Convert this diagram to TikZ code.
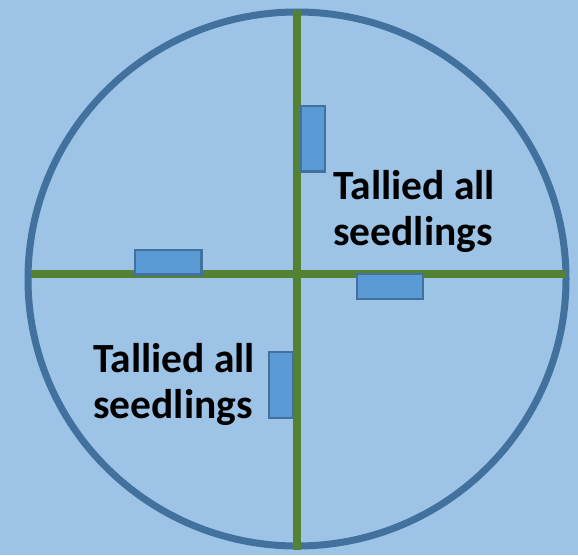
\documentclass[tikz,border=0pt]{standalone}
\usepackage{fontspec}
\setmainfont{Carlito}
\definecolor{bgblue}{HTML}{9DC3E6}
\definecolor{ringblue}{HTML}{41719C}
\definecolor{axisgreen}{HTML}{548235}
\definecolor{plotfill}{HTML}{5B9BD5}
\tikzset{
  ring/.style={draw=ringblue, line width=7pt},
  axis/.style={draw=axisgreen, line width=7.5pt},
  plotbox/.style={draw=ringblue, fill=plotfill, line width=2.5pt},
  label/.style={font=\fontsize{41.5}{46}\selectfont\bfseries, align=left, inner sep=0pt, anchor=base west}
}
\begin{document}
\begin{tikzpicture}[x=1pt, y=-1pt]
\fill[bgblue] (0,0) rectangle (578,555);
\useasboundingbox (0,0) rectangle (578,555);
\draw[ring] (297,279) ellipse (269 and 267);
\coordinate (vtop) at (297,10);
\coordinate (vbot) at (297,550);
\coordinate (hleft) at (31,274);
\coordinate (hright) at (565,274);
\draw[axis] (vtop) -- (vbot);
\draw[axis] (hleft) -- (hright);
\draw[plotbox] (301.2,106.2) rectangle (324.8,171.5);
\draw[plotbox] (135.2,250.2) rectangle (201.5,274.5);
\draw[plotbox] (356.9,273.9) rectangle (423.1,298.8);
\draw[plotbox] (269.2,351.9) rectangle (293.1,418.1);
\node[label] (tr) at (333,245.5) {Tallied all\\seedlings};
\node[label] (bl) at (93,418.5) {Tallied all\\seedlings};
\end{tikzpicture}
\end{document}
